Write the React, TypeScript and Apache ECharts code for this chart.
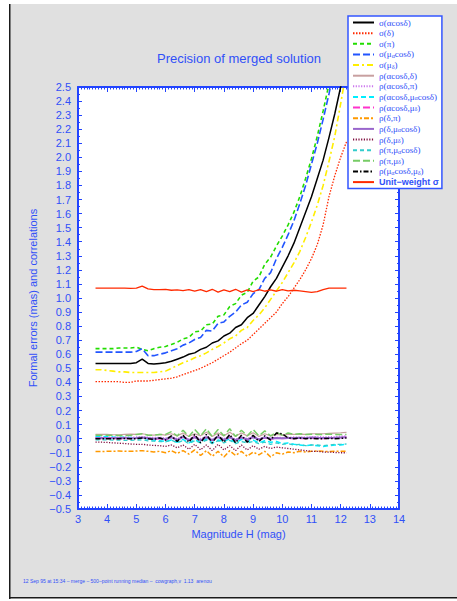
import React, { useEffect, useRef } from 'react';
import * as echarts from 'echarts';

const mags = [3.6,3.8,4.0,4.2,4.4,4.6,4.8,5.0,5.2,5.4,5.6,5.8,6.0,6.2,6.4,6.6,6.8,7.0,7.2,7.4,7.6,7.8,8.0,8.2,8.4,8.6,8.8,9.0,9.2,9.4,9.6,9.8,10.0,10.2,10.4,10.6,10.8,11.0,11.2,11.4,11.6,11.8,12.0,12.2];

const sigAlpha = [0.535,0.535,0.535,0.535,0.535,0.535,0.535,0.54,0.565,0.535,0.53,0.535,0.54,0.55,0.565,0.58,0.60,0.61,0.635,0.65,0.68,0.695,0.73,0.75,0.79,0.81,0.86,0.89,0.95,1.01,1.08,1.14,1.22,1.30,1.39,1.50,1.61,1.72,1.85,1.98,2.14,2.31,2.50,2.72];
const sigDelta = [0.405,0.405,0.405,0.405,0.405,0.40,0.40,0.41,0.41,0.41,0.415,0.42,0.425,0.43,0.44,0.455,0.47,0.485,0.50,0.52,0.54,0.565,0.59,0.615,0.645,0.675,0.70,0.74,0.78,0.82,0.86,0.90,0.96,1.01,1.07,1.13,1.20,1.28,1.38,1.52,1.72,1.87,2.00,2.11];
const sigPi = [0.64,0.64,0.64,0.64,0.645,0.645,0.645,0.65,0.635,0.625,0.64,0.65,0.655,0.67,0.685,0.71,0.72,0.76,0.765,0.81,0.815,0.87,0.88,0.94,0.96,1.02,1.04,1.12,1.15,1.24,1.29,1.37,1.44,1.52,1.61,1.72,1.85,1.99,2.15,2.33,2.52,2.72,2.95,3.2];
const sigPmra = [0.615,0.615,0.615,0.615,0.615,0.615,0.615,0.62,0.64,0.59,0.59,0.60,0.61,0.625,0.64,0.665,0.68,0.705,0.72,0.77,0.765,0.82,0.83,0.87,0.90,0.95,0.97,1.03,1.06,1.14,1.18,1.28,1.36,1.45,1.55,1.67,1.80,1.95,2.10,2.27,2.45,2.65,2.86,3.1];
const sigPmde = [0.49,0.49,0.485,0.48,0.475,0.475,0.47,0.47,0.47,0.47,0.47,0.475,0.48,0.50,0.52,0.54,0.555,0.575,0.59,0.61,0.635,0.655,0.68,0.71,0.73,0.77,0.79,0.84,0.88,0.93,0.99,1.05,1.11,1.18,1.25,1.33,1.43,1.54,1.66,1.80,1.97,2.15,2.38,2.62];
const rhoAD = [0.03,0.03,0.03,0.028,0.028,0.03,0.032,0.03,0.035,0.028,0.025,0.03,0.025,0.035,0.02,0.04,0.015,0.035,0.02,0.045,0.015,0.04,0.02,0.045,0.018,0.04,0.02,0.042,0.015,0.035,0.02,0.03,0.025,0.03,0.03,0.032,0.03,0.035,0.035,0.035,0.038,0.04,0.042,0.045];
const rhoAPi = [0.01,0.01,0.012,0.01,0.01,0.012,0.01,0.012,0.015,0.01,0.008,0.01,0.005,0.015,0.0,0.02,-0.005,0.018,0.0,0.02,-0.005,0.015,0.0,0.02,-0.005,0.015,0.0,0.018,0.0,0.012,0.005,0.01,0.008,0.01,0.012,0.01,0.01,0.012,0.015,0.012,0.015,0.015,0.018,0.02];
const rhoAPmra = [0.015,0.015,0.015,0.012,0.01,0.01,0.008,0.005,0.01,-0.005,-0.01,-0.015,-0.02,-0.01,-0.025,-0.005,-0.03,-0.01,-0.025,0.0,-0.03,-0.01,-0.02,0.0,-0.03,-0.005,-0.02,-0.01,-0.03,-0.015,-0.025,-0.02,-0.035,-0.03,-0.04,-0.045,-0.05,-0.045,-0.05,-0.055,-0.05,-0.045,-0.045,-0.04];
const rhoAPmde = [0.0,0.0,0.0,0.0,-0.002,0.0,0.0,0.002,0.005,0.0,-0.005,0.0,-0.01,0.01,-0.015,0.012,-0.01,0.015,-0.012,0.01,-0.015,0.012,-0.01,0.015,-0.012,0.01,-0.01,0.012,-0.008,0.008,-0.005,0.005,0.0,0.002,0.0,0.0,0.0,0.002,0.0,0.0,0.002,0.005,0.008,0.01];
const rhoDPi = [-0.092,-0.092,-0.09,-0.09,-0.088,-0.09,-0.09,-0.088,-0.085,-0.09,-0.095,-0.09,-0.1,-0.085,-0.105,-0.085,-0.11,-0.08,-0.12,-0.085,-0.125,-0.09,-0.13,-0.085,-0.12,-0.09,-0.125,-0.095,-0.115,-0.09,-0.13,-0.1,-0.11,-0.095,-0.1,-0.09,-0.095,-0.09,-0.088,-0.09,-0.092,-0.09,-0.09,-0.09];
const rhoDPmra = [0.005,0.005,0.005,0.005,0.005,0.005,0.003,0.005,0.008,0.004,0.0,0.005,-0.005,0.01,-0.008,0.012,-0.01,0.01,-0.012,0.01,-0.01,0.012,-0.008,0.01,-0.01,0.008,-0.006,0.01,-0.005,0.008,0.0,0.005,0.003,0.005,0.004,0.006,0.005,0.008,0.006,0.005,0.005,0.006,0.008,0.01];
const rhoDPmde = [-0.025,-0.025,-0.027,-0.03,-0.032,-0.035,-0.038,-0.04,-0.04,-0.045,-0.048,-0.05,-0.055,-0.045,-0.065,-0.045,-0.075,-0.04,-0.08,-0.045,-0.085,-0.04,-0.08,-0.05,-0.085,-0.045,-0.08,-0.05,-0.075,-0.055,-0.07,-0.06,-0.065,-0.07,-0.075,-0.08,-0.085,-0.09,-0.09,-0.095,-0.095,-0.098,-0.1,-0.1];
const rhoPiPmra = [-0.008,-0.008,-0.008,-0.01,-0.01,-0.012,-0.012,-0.01,-0.008,-0.015,-0.018,-0.02,-0.022,-0.01,-0.03,-0.012,-0.035,-0.015,-0.03,-0.01,-0.035,-0.015,-0.03,-0.012,-0.035,-0.02,-0.03,-0.02,-0.035,-0.025,-0.04,-0.03,-0.04,-0.035,-0.045,-0.04,-0.05,-0.045,-0.045,-0.05,-0.045,-0.04,-0.04,-0.038];
const rhoPiPmde = [0.025,0.025,0.025,0.025,0.022,0.022,0.025,0.03,0.035,0.025,0.025,0.03,0.03,0.05,0.02,0.06,0.015,0.065,0.02,0.07,0.015,0.065,0.02,0.07,0.015,0.06,0.02,0.065,0.02,0.055,0.02,0.045,0.025,0.04,0.03,0.035,0.03,0.032,0.03,0.03,0.032,0.03,0.03,0.03];
const rhoPmraPmde = [0.0,0.0,0.0,0.0,0.0,0.002,0.0,0.0,0.005,0.0,-0.005,0.005,-0.01,0.02,-0.02,0.025,-0.025,0.03,-0.03,0.03,-0.03,0.028,-0.025,0.03,-0.03,0.025,-0.025,0.025,-0.02,0.02,-0.01,0.04,0.035,0.005,0.0,0.005,0.0,0.002,0.0,0.0,0.002,0.0,0.002,0.005];
const unitWeight = [1.07,1.07,1.07,1.07,1.07,1.07,1.068,1.07,1.085,1.065,1.06,1.06,1.062,1.055,1.058,1.052,1.06,1.048,1.06,1.045,1.062,1.042,1.058,1.045,1.062,1.042,1.058,1.045,1.06,1.048,1.058,1.048,1.06,1.05,1.055,1.05,1.045,1.04,1.045,1.06,1.07,1.07,1.07,1.07];

const seriesNames = [
  'σ(αcosδ)', 'σ(δ)', 'σ(π)', 'σ(μαcosδ)', 'σ(μδ)',
  'ρ(αcosδ,δ)', 'ρ(αcosδ,π)', 'ρ(αcosδ,μαcosδ)', 'ρ(αcosδ,μδ)', 'ρ(δ,π)',
  'ρ(δ,μαcosδ)', 'ρ(δ,μδ)', 'ρ(π,μαcosδ)', 'ρ(π,μδ)', 'ρ(μαcosδ,μδ)', 'Unit−weight σ',
];
const seriesValues = [
  sigAlpha, sigDelta, sigPi, sigPmra, sigPmde,
  rhoAD, rhoAPi, rhoAPmra, rhoAPmde, rhoDPi,
  rhoDPmra, rhoDPmde, rhoPiPmra, rhoPiPmde, rhoPmraPmde, unitWeight,
];
const seriesStyles: { color: string; type: any; width: number }[] = [
  { color: '#000000', type: 'solid', width: 1.5 },
  { color: '#ff2a00', type: [1.5, 1.5], width: 1.3 },
  { color: '#22dd00', type: [4, 3], width: 1.6 },
  { color: '#2255ff', type: [7, 3], width: 1.6 },
  { color: '#ffee00', type: [6, 3, 2, 3], width: 1.6 },
  { color: '#c8a0a0', type: 'solid', width: 1.2 },
  { color: '#cc77ee', type: [1.2, 1.5], width: 1.3 },
  { color: '#00eeff', type: [5, 3], width: 1.5 },
  { color: '#ff33cc', type: [7, 3], width: 1.3 },
  { color: '#ff9900', type: [5, 2, 2, 2], width: 1.5 },
  { color: '#9966cc', type: 'solid', width: 2 },
  { color: '#801040', type: [1.2, 1.5], width: 1.3 },
  { color: '#33cccc', type: [4, 3], width: 1.3 },
  { color: '#77cc66', type: [7, 3], width: 1.5 },
  { color: '#000000', type: [5, 2, 1.5, 2], width: 1.5 },
  { color: '#ff2a00', type: 'solid', width: 1.3 },
];

const BLUE = '#3050f8';
const AXIS = '#2244ff';

function legendLabel(name: string) {
  if (name === 'Unit−weight σ') return '{u|' + name + '}';
  return name.replace(/μα/g, 'μ{s|α}').replace(/μδ/g, 'μ{s|δ}');
}

export default function App() {
  const ref = useRef<HTMLDivElement>(null);
  useEffect(() => {
    if (!ref.current) return;
    const chart = echarts.init(ref.current, null, { renderer: 'svg' });
    const series = seriesNames.map((name, k) => ({
      name,
      type: 'line',
      xAxisIndex: 0,
      yAxisIndex: 0,
      showSymbol: false,
      symbol: 'none',
      clip: true,
      data: mags.map((m, i) => [m, seriesValues[k][i]]),
      lineStyle: { color: seriesStyles[k].color, type: seriesStyles[k].type, width: seriesStyles[k].width },
      itemStyle: { color: seriesStyles[k].color },
    }));
    const fmtY = (v: number) => v.toFixed(1).replace('-', '−');
    const xCommon = {
      type: 'value', min: 3, max: 14, interval: 1,
      axisLine: { show: true, onZero: false, lineStyle: { color: AXIS, width: 2 } },
      axisTick: { show: true, inside: true, length: 5, lineStyle: { color: AXIS } },
      minorTick: { show: true, splitNumber: 10, length: 2.5, lineStyle: { color: AXIS } },
      splitLine: { show: false },
    };
    const yCommon = {
      type: 'value', min: -0.5, max: 2.5, interval: 0.1,
      axisLine: { show: true, onZero: false, lineStyle: { color: AXIS, width: 2 } },
      axisTick: { show: true, inside: true, length: 4, lineStyle: { color: AXIS } },
      minorTick: { show: true, splitNumber: 2, length: 2, lineStyle: { color: AXIS } },
      splitLine: { show: false },
    };
    chart.setOption({
      animation: false,
      backgroundColor: '#ffffff',
      textStyle: { fontFamily: 'Liberation Sans, Arial, sans-serif' },
      graphic: [
        { type: 'rect', z: -100, shape: { x: 10, y: 4, width: 447, height: 593 }, style: { fill: '#e0e0e0' } },
        { type: 'rect', z: -99, shape: { x: 9, y: 4, width: 1.5, height: 595 }, style: { fill: '#1a1a1a' } },
        { type: 'rect', z: -99, shape: { x: 9, y: 597, width: 448, height: 1.5 }, style: { fill: '#1a1a1a' } },
        { type: 'text', x: 239, y: 58, style: { text: 'Precision of merged solution', fill: BLUE, fontSize: 13, fontFamily: 'Liberation Sans, Arial, sans-serif', textAlign: 'center', textVerticalAlign: 'middle' } },
        { type: 'text', x: 23, y: 581, style: { text: '12 Sep 95 at 15:34 – merge – 500–point running median –  cowgraph,v  1.13  arenou', fill: BLUE, fontSize: 5, fontFamily: 'Liberation Sans, Arial, sans-serif', textVerticalAlign: 'middle' } },
      ],
      grid: { left: 78, right: 58, top: 87, bottom: 92, containLabel: false, outerBoundsMode: 'none', show: true, backgroundColor: '#ffffff', borderWidth: 0 },
      legend: {
        orient: 'vertical',
        left: 348,
        top: 16,
        data: seriesNames,
        itemWidth: 21,
        itemHeight: 9,
        itemGap: 1.64,
        padding: [2, 3, 2, 4],
        backgroundColor: '#ffffff',
        borderColor: '#3355ff',
        borderWidth: 1.5,
        borderRadius: 0,
        itemStyle: { opacity: 0 },
        formatter: legendLabel,
        textStyle: {
          color: BLUE,
          fontSize: 9,
          lineHeight: 9,
          fontFamily: 'Liberation Serif, Times New Roman, serif',
          rich: {
            s: { fontSize: 6, color: BLUE, fontFamily: 'Liberation Serif, serif', verticalAlign: 'bottom', lineHeight: 5 },
            u: { fontSize: 9, lineHeight: 9, color: BLUE, fontWeight: 'bold', fontFamily: 'Liberation Sans, Arial, sans-serif' },
          },
        },
      },
      xAxis: [
        {
          ...xCommon, position: 'bottom',
          name: 'Magnitude H (mag)', nameLocation: 'middle', nameGap: 19,
          nameTextStyle: { color: BLUE, fontSize: 11 },
          axisLabel: { color: BLUE, fontSize: 11, margin: 4 },
        },
        { ...xCommon, position: 'top', axisLabel: { show: false } },
      ],
      yAxis: [
        {
          ...yCommon, position: 'left',
          name: 'Formal errors (mas) and correlations', nameLocation: 'middle', nameGap: 40, nameRotate: 90,
          nameTextStyle: { color: BLUE, fontSize: 11 },
          axisLabel: { color: BLUE, fontSize: 11, margin: 7, formatter: fmtY },
        },
        { ...yCommon, position: 'right', axisLabel: { show: false } },
      ],
      series,
    });
    return () => chart.dispose();
  }, []);
  return <div ref={ref} style={{ position: 'absolute', left: 0, top: 0, width: 457, height: 601 }} />;
}
